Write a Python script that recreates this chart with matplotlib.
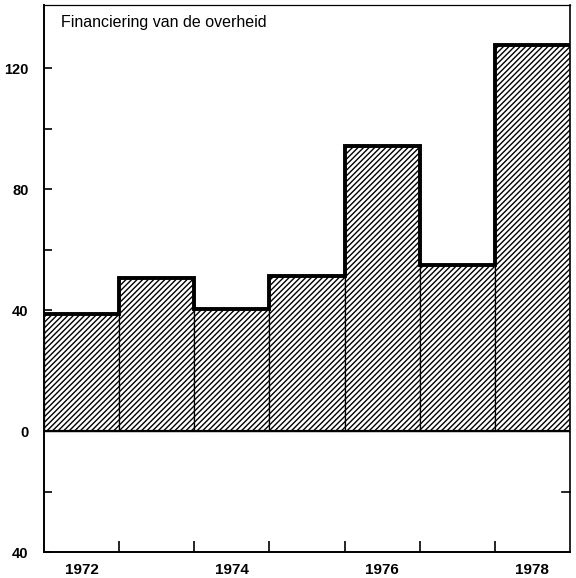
import matplotlib
matplotlib.use("Agg")
import matplotlib.pyplot as plt
import numpy as np

years = [1972, 1973, 1974, 1975, 1976, 1977, 1978]
values = [38.7, 50.6, 40.4, 51.2, 94.5, 55.1, 127.6]
year_labels = ["1972", "1974", "1976", "1978"]
label_years = [1972, 1974, 1976, 1978]
ytick_pos = [-40, 0, 40, 80, 120]
ytick_labels = ["40", "0", "40", "80", "120"]
title = "Financiering van de overheid"

plt.rcParams['font.family'] = ['Liberation Sans', 'DejaVu Sans']
plt.rcParams['hatch.linewidth'] = 1.0

fig = plt.figure(figsize=(5.76, 5.78), dpi=100)
ax = fig.add_axes([44/576, 26/578, (570-44)/576, (552-5)/578])

edges = np.arange(len(years) + 1) + years[0] - 0.5
ax.bar(years, values, width=1.0, facecolor='white', edgecolor='black',
       hatch='//////', linewidth=0.9, zorder=2)
ax.stairs(values, edges, baseline=None, color='black', linewidth=2.8, zorder=3)
ax.axhline(0, color='black', linewidth=1.6, zorder=4)

ax.set_xlim(edges[0], edges[-1])
ax.set_ylim(-40, 141)

# y ticks
ax.set_yticks(ytick_pos)
ax.set_yticklabels(ytick_labels, fontsize=10.5, fontweight='bold')
ax.set_yticks([-20, 20, 60, 100], minor=True)
ax.tick_params(axis='y', which='both', direction='in', length=6, width=1.2,
               pad=11, left=True, right=False)

# x ticks: inner edges as major (no labels), labels at centers via minor
ax.set_xticks(edges[1:-1])
ax.set_xticklabels([])
ax.tick_params(axis='x', which='major', direction='in', length=8, width=1.2)
ax.set_xticks(label_years, minor=True)
ax.set_xticklabels(year_labels, minor=True, fontsize=11, fontweight='bold')
ax.tick_params(axis='x', which='minor', length=0, pad=8)

# right tick at -20
ax.plot([0.985, 1.0], [-20, -20], color='black', lw=1.2,
        transform=ax.get_yaxis_transform(), clip_on=False)

for s in ['left', 'bottom']:
    ax.spines[s].set_linewidth(1.4)
ax.spines['right'].set_linewidth(1.2)
ax.spines['top'].set_linewidth(0.9)

ax.text(0.033, 0.968, title, transform=ax.transAxes, fontsize=11.5,
        ha='left', va='center')

fig.savefig("out.png", dpi=100)
